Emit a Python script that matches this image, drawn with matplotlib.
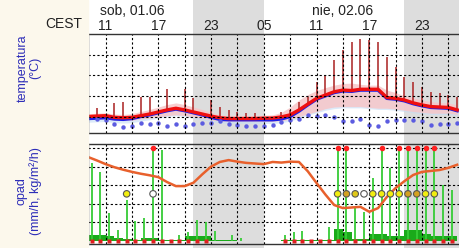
import numpy as np
import matplotlib
matplotlib.use("Agg")
import matplotlib.pyplot as plt
from matplotlib.patches import Rectangle
from matplotlib.transforms import ScaledTranslation

plt.rcParams['font.family'] = ['Liberation Sans', 'DejaVu Sans']

# hours counted from 00:00 on 01.06
hours = np.arange(9, 52)

temp = [15.0, 15.1, 15.2, 14.8, 14.7, 14.8, 15.2, 15.6, 16.1, 16.6, 17.0, 16.6, 16.1, 15.6,
        15.1, 14.7, 14.5, 14.5, 14.5, 14.5, 14.6, 14.6, 14.9, 15.4, 16.6, 18.0, 19.4, 20.2,
        21.0, 21.4, 21.3, 21.6, 21.6, 21.6, 19.6, 19.4, 19.0, 18.3, 17.8, 17.4, 17.3, 17.2, 16.6]
temp_blue = [14.5, 14.6, 14.7, 14.4, 14.3, 14.5, 15.0, 15.4, 15.9, 16.4, 16.8, 16.4, 15.9, 15.4,
             14.8, 14.3, 14.2, 14.2, 14.2, 14.2, 14.2, 14.2, 14.4, 15.0, 16.3, 17.8, 19.2, 20.0,
             20.8, 21.2, 21.1, 21.4, 21.4, 21.4, 19.4, 19.2, 18.8, 18.1, 17.6, 17.2, 17.1, 17.0, 16.4]
pink_hi = [15.6, 15.8, 15.9, 15.6, 15.5, 15.7, 16.2, 16.7, 17.3, 17.9, 18.3, 17.9, 17.3, 16.7,
           16.0, 15.4, 15.2, 15.2, 15.2, 15.2, 15.3, 15.4, 16.0, 17.3, 19.0, 20.3, 21.3, 22.0,
           22.6, 23.0, 23.1, 22.8, 22.6, 22.6, 21.4, 20.8, 20.0, 19.5, 19.0, 18.6, 18.4, 18.3, 17.8]
pink_lo = [14.3, 14.4, 14.5, 14.1, 14.0, 14.1, 14.4, 14.6, 14.9, 15.2, 15.4, 15.2, 14.9, 14.6,
           14.2, 13.9, 13.8, 13.8, 13.8, 13.8, 13.8, 13.8, 14.0, 14.3, 15.0, 15.6, 16.2, 16.9,
           17.3, 17.4, 17.4, 17.4, 17.2, 17.0, 17.0, 16.8, 16.5, 16.2, 16.0, 15.8, 15.8, 15.8, 15.5]
blue_lo = [13.6, 13.7, 13.8, 13.5, 13.4, 13.5, 13.9, 14.2, 14.6, 15.0, 15.2, 15.0, 14.6, 14.2,
           13.8, 13.4, 13.3, 13.3, 13.3, 13.3, 13.3, 13.3, 13.5, 13.9, 14.6, 15.3, 15.9, 16.5,
           16.9, 17.1, 17.1, 17.1, 16.9, 16.7, 16.7, 16.5, 16.2, 15.9, 15.7, 15.5, 15.5, 15.5, 15.2]
nan = np.nan
temp_max = [nan, 17.1, nan, 18.3, 18.5, nan, 19.7, 19.7, nan, 21.7, nan, 21.7, 19.5, nan,
            19.0, 17.3, 16.6, 16.2, 15.8, 15.8, nan, nan, 16.2, 16.6, 18.6, 19.7, 23.4, 24.8,
            28.7, 31.1, 33.0, 33.8, 33.5, 33.0, 29.4, 27.0, 24.6, 23.4, 22.1, 20.9, 20.7, 20.2, 19.7]
dew = [nan, 14.5, 14.2, 13.2, 12.5, 12.6, 13.4, 13.2, 13.4, 12.8, 13.1, 12.7, 13.3, 13.4,
       13.5, 14.0, 13.3, 12.9, 12.6, 12.6, 12.6, 13.0, 13.6, 14.2, 14.5, 15.3, 15.2, 15.3,
       14.8, 13.8, 13.9, 14.3, 12.9, 12.8, 13.8, 14.1, 14.2, 14.2, 13.8, 12.9, 13.2, 13.2, 13.4]

precip = [25.2, 22.4, 9.0, 3.5, 13.2, 6.5, 7.4, 35, 29.4, 0, 1.9, 2.9, 6.8, 6.2,
          3.2, 0, 2.0, 1.0, 0, 0, 0, 0, 2.0, 3.0, 3.2, 0, 0, 4.6,
          35, 35, 11.0, 9.4, 20.2, 35, 23.7, 35, 35, 35, 35, 35, 18.0, 16.5, 0]
precip_mean = [1.8, 1.8, 1.5, 1.0, 0.6, 0.4, 0.8, 0.8, 0.3, 0.2, 0.3, 1.6, 1.6, 1.6,
               0.4, 0.2, 0.2, 0, 0, 0, 0, 0, 0.2, 0.3, 0.3, 0.2, 0.2, 0.4,
               3.9, 3.0, 0.5, 0.5, 2.3, 2.3, 1.7, 1.7, 3.5, 3.5, 2.3, 1.7, 1.7, 1.7, 1.7]
humidity = [27.1, 26.0, 24.8, 23.8, 23.0, 22.3, 21.7, 21.2, 20.6, 19.0, 17.7, 17.7, 18.8, 21.5,
            24.0, 25.5, 26.1, 25.6, 25.2, 25.0, 24.8, 25.5, 25.3, 25.6, 25.5, 22.5, 18.7, 15.0,
            11.6, 10.6, 10.8, 11.0, 9.4, 10.6, 14.2, 17.1, 19.3, 21.3, 22.3, 22.6, 22.9, 23.6, 24.6]
sq_hours = list(range(9, 23)) + list(range(31, 52))
circ_hours = [13, 16, 37, 38, 39, 40, 41, 42, 43, 44, 45, 46, 47, 48]
circ_colors = ['#f2ee10', 'white', '#f2ee10', '#d4a020', '#e0c818', 'white', '#f2ee10', '#f2ee10',
               '#f2ee10', '#f2ee10', '#d4a020', '#d4a020', '#f2ee10', '#f2ee10']
nights = [(21, 29), (45, 53)]
hour_ticks = [11, 17, 23, 29, 35, 41, 47]
hour_labels = ['11', '17', '23', '05', '11', '17', '23']
dates = [(14, 'sob, 01.06'), (38, 'nie, 02.06')]

W, H = 460, 248
x0 = 88 / W
xlim = (9, 9 + 372 / 8.79)
grid_kw = dict(color='black', lw=0.8, linestyle=(0, (2, 2)))

fig = plt.figure(figsize=(W / 100, H / 100), dpi=100)
fig.patches.append(Rectangle((0, 0), x0, 1, transform=fig.transFigure,
                             color='#fcf8ec', zorder=0))

# background with night shading and header labels
bg = fig.add_axes([x0, 0, 1 - x0, 1])
bg.set_xlim(xlim)
bg.set_ylim(0, 1)
bg.axis('off')
bg.axvspan(xlim[0], xlim[1], color='white')
for a, b in nights:
    bg.axvspan(a, b, color='#dddddd', lw=0)
for h, lab in zip(hour_ticks, hour_labels):
    bg.text(h, (H - 26) / H, lab, ha='center', va='center', fontsize=10, color='#222222')
for h, lab in dates:
    bg.text(h, (H - 11) / H, lab, ha='center', va='center', fontsize=10, color='#222222')
fig.text(82 / W, (H - 24) / H, 'CEST', ha='right', va='center', fontsize=10, color='#222222')

fig.text(29 / W, (H - 68) / H, 'temperatura\n(°C)', rotation=90, ha='center', va='center',
         multialignment='center', fontsize=9, color='#2d2db8', linespacing=1.15)
fig.text(29 / W, (H - 191) / H, 'opad\n(mm/h, kg/m²/h)', rotation=90, ha='center',
         va='center', multialignment='center', fontsize=9, color='#2d2db8', linespacing=1.15)

# temperature panel
ax = fig.add_axes([x0, (H - 133) / H, 1 - x0, 99 / H])
ax.set_facecolor('none')
ax.set_xlim(xlim)
ax.set_ylim(11, 35)
ax.fill_between(hours, blue_lo, temp_blue, color='#c4dcf6', alpha=0.6, lw=0)
ax.fill_between(hours, pink_lo, pink_hi, color='#f7c6c8', alpha=0.85, lw=0)
ax.vlines(hours, temp, temp_max, color='#b03232', lw=1.2)
ax.plot(hours, temp_blue, color='#1e1ee6', lw=2.4)
ax.plot(hours, temp, color='#f01010', lw=2.4)
ax.plot(hours, dew, 'o', color='#5c5ce0', ms=3.2, mec='none')
for y in [15, 20, 25, 30]:
    ax.axhline(y, **grid_kw)
for h in range(11, 52, 3):
    ax.axvline(h, **grid_kw)
ax.set_yticks([15, 20, 25, 30, 35])
ax.set_xticks([])

# precipitation panel
ax2 = fig.add_axes([x0, 4 / H, 1 - x0, 100 / H])
ax2.set_facecolor('none')
ax2.set_xlim(xlim)
ax2.set_ylim(-1.0, 31.3)
for y in [6, 12, 18, 24, 30]:
    ax2.axhline(y, **grid_kw)
for h in range(11, 52, 3):
    ax2.axvline(h, **grid_kw)
ax2.fill_between(hours, precip_mean, step='post', color='#1aaa1a', lw=0)
pos = hours + 0.4
p = np.array(precip)
ax2.vlines(pos[p > 0], 0, np.minimum(p[p > 0], 30), color='#36cc36', lw=1.3)
ax2.plot(pos[p > 30], np.full((p > 30).sum(), 30), 'o', color='#ff2020', ms=4, mec='none')
ax2.plot(hours, humidity, color='#e8602c', lw=1.8)
ax2.plot(np.array(sq_hours) + 0.4, np.zeros(len(sq_hours)), 's', color='#e02020', ms=2.6,
         mec='none', clip_on=False)
ax2.scatter(np.array(circ_hours) + 0.4, np.full(len(circ_hours), 15.2), s=22,
            c=circ_colors, edgecolors='#555555', linewidths=0.8, zorder=5)
ax2.set_yticks([0, 6, 12, 18, 24, 30])
ax2.set_xticks([])

for a in (ax, ax2):
    a.tick_params(axis='y', length=0, pad=5, labelsize=9.5, labelcolor='#222222')
    for s in a.spines.values():
        s.set_color('#333333')
        s.set_linewidth(1)
    a.spines['right'].set_visible(False)

# the top "35" label sits a little lower, tucked under CEST
top_lab = ax.get_yticklabels()[-1]
top_lab.set_transform(top_lab.get_transform() + ScaledTranslation(0, -0.04, fig.dpi_scale_trans))

fig.savefig('out.png', dpi=100)
